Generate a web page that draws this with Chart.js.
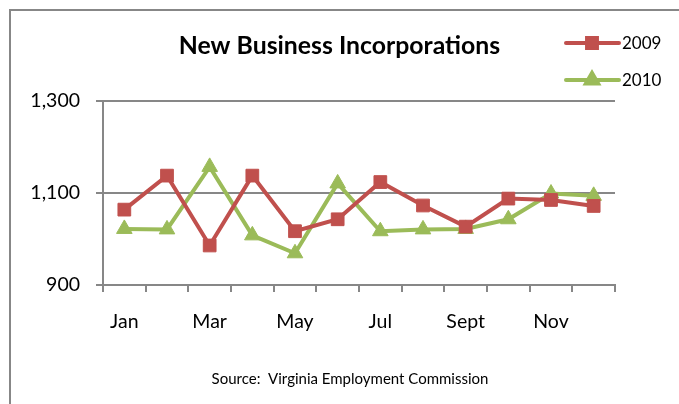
<!DOCTYPE html>
<html>
<head>
<meta charset="utf-8">
<script src="https://cdn.jsdelivr.net/npm/chart.js@4/dist/chart.umd.min.js"></script>
<style>
    html, body { margin: 0; padding: 0; background: #fff; }
    #wrap { width: 679px; height: 404px; }
</style>
</head>
<body>
<div id="wrap"><canvas id="chart" width="679" height="404"></canvas></div>
<script>
const months = ["Jan", "Feb", "Mar", "Apr", "May", "Jun", "Jul", "Aug", "Sept", "Oct", "Nov", "Dec"];
const values2009 = [1064, 1138, 986, 1138, 1017, 1043, 1124, 1073, 1027, 1088, 1085, 1072];
const values2010 = [1022, 1021, 1157, 1008, 969, 1121, 1017, 1021, 1022, 1043, 1099, 1094];
const yTicks = [900, 1100, 1300];

const FONT = "Lato, 'Liberation Sans', sans-serif";
const GRAY = "#878787";
const RED = "#C0504D";
const GREEN = "#9BBB59";

// frame, legend and source note
const extras = {
    id: "extras",
    afterDraw(chart) {
        const ctx = chart.ctx;
        ctx.save();

        ctx.strokeStyle = GRAY;
        ctx.lineWidth = 2;
        ctx.beginPath();
        ctx.moveTo(10, 404);
        ctx.lineTo(10, 10);
        ctx.lineTo(679, 10);
        ctx.stroke();

        chart.data.datasets.forEach((ds, i) => {
            const y = 43 + i * 37;
            ctx.strokeStyle = ds.borderColor;
            ctx.lineWidth = 4;
            ctx.lineCap = "round";
            ctx.beginPath();
            ctx.moveTo(566, y);
            ctx.lineTo(619, y);
            ctx.stroke();
            Chart.helpers.drawPoint(ctx, {
                pointStyle: ds.pointStyle,
                radius: 7,
                borderWidth: 1
            }, 592, y);
            ctx.fillStyle = ds.borderColor;
            ctx.fill();
            ctx.fillStyle = "#000";
            ctx.font = "17px " + FONT;
            ctx.textBaseline = "middle";
            ctx.textAlign = "left";
            ctx.fillText(ds.label, 622, y + 1);
        });

        ctx.fillStyle = "#000";
        ctx.font = "15px " + FONT;
        ctx.textAlign = "center";
        ctx.textBaseline = "middle";
        ctx.fillText("Source:  Virginia Employment Commission", 350, 379);
        ctx.restore();
    }
};

new Chart(document.getElementById("chart"), {
    type: "line",
    data: {
        labels: months,
        datasets: [{
            label: "2009",
            data: values2009,
            borderColor: RED,
            backgroundColor: RED,
            pointStyle: "rect",
            pointRadius: 9,
            pointBorderWidth: 1,
            borderWidth: 4,
            tension: 0
        }, {
            label: "2010",
            data: values2010,
            borderColor: GREEN,
            backgroundColor: GREEN,
            pointStyle: "triangle",
            pointRadius: 9,
            pointBorderWidth: 1,
            borderWidth: 4,
            tension: 0
        }]
    },
    options: {
        responsive: false,
        animation: false,
        layout: { padding: { top: 20, left: 0, right: 0, bottom: 0 } },
        plugins: {
            legend: { display: false },
            tooltip: { enabled: false },
            title: {
                display: true,
                text: "New Business Incorporations",
                color: "#000",
                font: { family: FONT, size: 24.8, weight: "bold" },
                padding: { top: 11, bottom: 40.4 }
            }
        },
        scales: {
            x: {
                offset: true,
                afterFit: (s) => { s.height = 119; },
                grid: {
                    offset: true,
                    drawOnChartArea: false,
                    drawTicks: true,
                    tickLength: 7,
                    color: GRAY,
                    lineWidth: 2
                },
                border: { color: GRAY, width: 2 },
                ticks: {
                    autoSkip: false,
                    maxRotation: 0,
                    padding: 18,
                    color: "#000",
                    font: { family: FONT, size: 19.5 },
                    callback: (v, i) => (i % 2 === 0 ? months[i] : "")
                }
            },
            y: {
                min: yTicks[0],
                max: yTicks[yTicks.length - 1],
                afterFit: (s) => { s.width = 103; },
                afterBuildTicks: (s) => { s.ticks = yTicks.map(v => ({ value: v })); },
                grid: {
                    color: GRAY,
                    lineWidth: 2,
                    tickLength: 7
                },
                border: { color: GRAY, width: 2 },
                ticks: {
                    padding: 16,
                    color: "#000",
                    font: { family: FONT, size: 19.5 }
                }
            },
            // empty right-hand axis: reserves the strip under the legend
            spacer: {
                type: "linear",
                position: "right",
                display: true,
                afterFit: (s) => { s.width = 64; },
                grid: { display: false, drawTicks: false },
                border: { display: false },
                ticks: { display: false }
            }
        }
    },
    plugins: [extras]
});
</script>
</body>
</html>
